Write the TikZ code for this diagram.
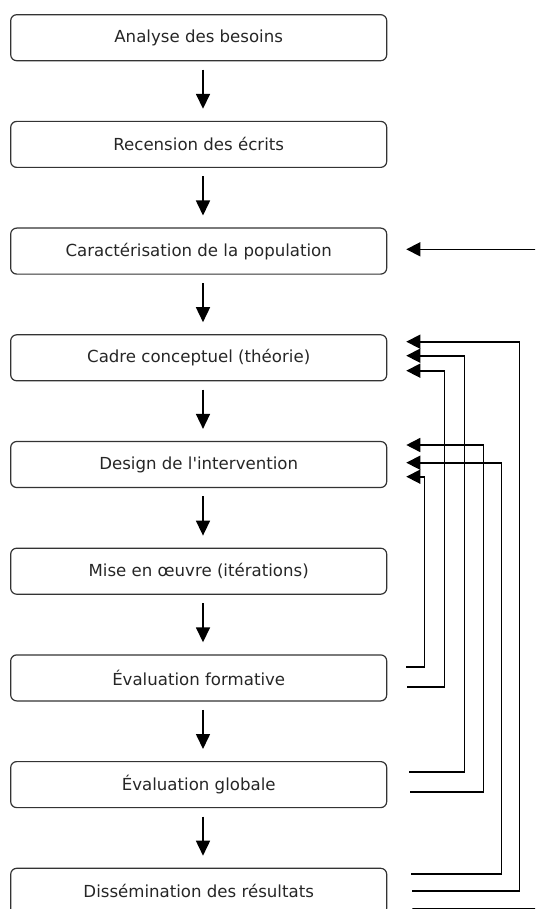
\documentclass[tikz,border=0pt]{standalone}
\usepackage{fontspec}
\setmainfont{DejaVu Sans}
\usetikzlibrary{arrows.meta,calc}
\begin{document}
\begin{tikzpicture}[x=1pt,y=-1pt,
  box/.style={draw=black!80, line width=1.2pt, rounded corners=6pt,
    minimum width=376pt, minimum height=46pt, inner sep=0pt,
    font=\fontsize{16.6}{19}\selectfont, text=black!85},
  flow/.style={line width=1.6pt, -{Triangle[width=14pt,length=15pt]}},
  fb/.style={line width=1.6pt},
  fba/.style={fb, -{Triangle[width=14pt,length=14pt]}}]
\useasboundingbox (0,0) rectangle (535,909);
\clip (0,0) rectangle (535,909);
% boxes
\node[box] (b1) at (198.7,37.7) {Analyse des besoins};
\node[box] (b2) at (198.7,144.4) {Recension des écrits};
\node[box] (b3) at (198.7,251.1) {Caractérisation de la population};
\node[box] (b4) at (198.7,357.8) {Cadre conceptuel (théorie)};
\node[box] (b5) at (198.7,464.5) {Design de l\textquotesingle intervention};
\node[box] (b6) at (198.7,571.2) {Mise en œuvre (itérations)};
\node[box] (b7) at (198.7,677.9) {Évaluation formative};
\node[box] (b8) at (198.7,784.6) {Évaluation globale};
\node[box] (b9) at (198.7,891.3) {Dissémination des résultats};
% main flow
\foreach \a/\b in {b1/b2,b2/b3,b3/b4,b4/b5,b5/b6,b6/b7,b7/b8,b8/b9}
  \draw[flow] ($(\a.south)+(4.3,8.3)$) -- ($(\b.north)+(4.3,-12)$);
% incoming arrow
\coordinate (in3) at (540,249.3);
\coordinate (e0) at ($(b3.east)+(19,-1.8)$);
\draw[fba] (in3) -- (e0);
% feedback endpoints
\coordinate (s1) at ($(b7.east)+(19,-11.2)$);
\coordinate (e1) at ($(b5.east)+(19,12.2)$);
\coordinate (s2) at ($(b7.east)+(20,8.8)$);
\coordinate (e2) at ($(b4.east)+(19,12.9)$);
\coordinate (s3) at ($(b8.east)+(22,-12.6)$);
\coordinate (e3) at ($(b4.east)+(19,-2.1)$);
\coordinate (s4) at ($(b8.east)+(23,7.4)$);
\coordinate (e4) at ($(b5.east)+(19,-19.5)$);
\coordinate (s5) at ($(b9.east)+(24,-17.3)$);
\coordinate (e5) at ($(b5.east)+(19,-1.8)$);
\coordinate (s6) at ($(b9.east)+(25,-0.3)$);
\coordinate (e6) at ($(b4.east)+(19,-16.1)$);
\coordinate (s7) at ($(b9.east)+(25,17.6)$);
\coordinate (e7) at (540,908.9);
% feedback connectors
\draw[fba] (s1) -| ($(e1)+(18.3,0)$) -- (e1);
\draw[fba] (s2) -| ($(e2)+(38.3,0)$) -- (e2);
\draw[fba] (s3) -| ($(e3)+(58.3,0)$) -- (e3);
\draw[fba] (s4) -| ($(e4)+(77.3,0)$) -- (e4);
\draw[fba] (s5) -| ($(e5)+(95.3,0)$) -- (e5);
\draw[fba] (s6) -| ($(e6)+(113.3,0)$) -- (e6);
\draw[fb] (s7) -- (e7);
\end{tikzpicture}
\end{document}
